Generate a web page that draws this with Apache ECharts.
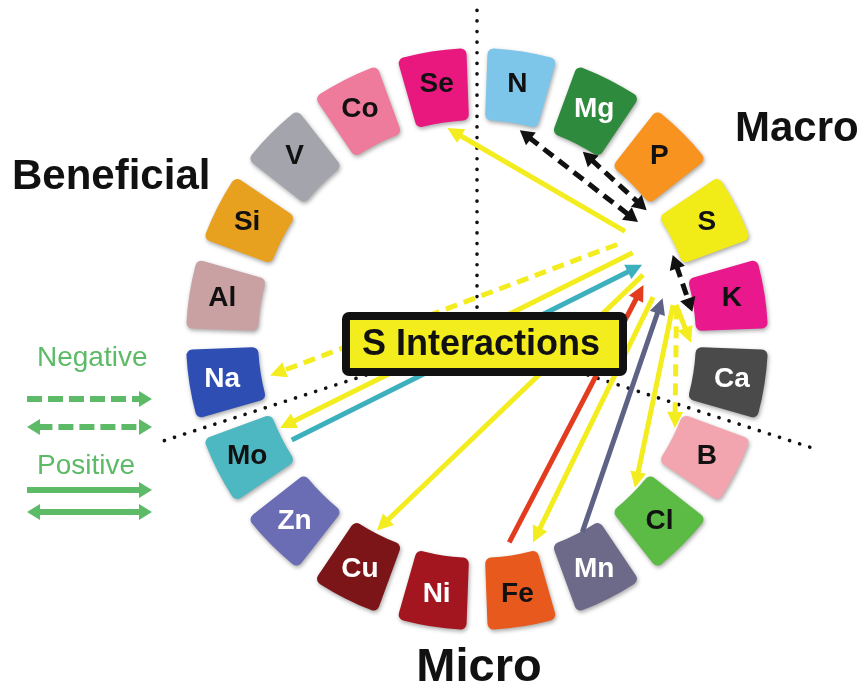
<!DOCTYPE html>
<html>
<head>
<meta charset="utf-8">
<script src="https://cdn.jsdelivr.net/npm/echarts@6/dist/echarts.min.js"></script>
<style>
html,body{margin:0;padding:0;background:#fff;}
#c{width:862px;height:691px;}
</style>
</head>
<body>
<div id="c"></div>
<script>
// ---------- data ----------
const elements = ['N','Mg','P','S','K','Ca','B','Cl','Mn','Fe','Ni','Cu','Zn','Mo','Na','Al','Si','V','Co','Se'];
const elementValues = [1,1,1,1,1,1,1,1,1,1,1,1,1,1,1,1,1,1,1,1];
const groupDividerAngles = [0, 108, 252];          // Macro | Micro | Beneficial boundaries (deg)
const groupDividerLengths = [330, 350, 332];
const groupNames = ['Macro', 'Micro', 'Beneficial'];

const arrowFrom   = ['S','N','Mg','S','S','S','Mo','S','Fe','S','Mn','S','S','S'];
const arrowTo     = ['Se','S','S','K','Na','Mo','S','Cu','S','Fe','S','Cl','B','Ca'];
const arrowEffect = ['pos','neg','neg','neg','neg','pos','pos','pos','pos','pos','pos','pos','neg','pos'];
const arrowHeads  = ['end','both','both','both','end','end','end','end','end','end','end','end','end','end'];
// polar [radius, angle] of the two ends
const arrowTail = [[183,54],[213,11.6],[215,29.5],[213,66.8],[169,56],[178,61],[211,241.4],[178,68.9],[206,171],[181,76.6],[220,151.4],[199,80.2],[202,81],[202,80.3]];
const arrowHead = [[213,352],[199,54],[213,52.8],[217,82.8],[210,260],[216,245.7],[181,65.8],[216,207.6],[175,72],[211,164.6],[190,77.6],[217,133.3],[217,114.2],[214,91]];

const legendLabels = ['Negative', 'Positive'];
const centerTitle = 'S Interactions';

// ---------- styles ----------
const elementColors = ['#7DC6EA','#2E8A3C','#F7931E','#F1EC17','#E9188C','#4A4A4A','#F3A5AF','#5CBB44','#6C6A88','#E8591E',
                       '#A3161F','#7C1518','#6A6CB4','#4DB8C2','#2F4EB4','#C9A1A3','#E8A11F','#A4A4AC','#EF7B9C','#E8187F'];
const whiteLabel = ['Mg','Ca','Mn','Ni','Cu','Zn','Na'];
const arrowColors = ['#F3EC1E','#111111','#111111','#111111','#F3EC1E','#F3EC1E','#3DB0BE','#F3EC1E','#E23B1E','#F3EC1E','#5E6385','#F3EC1E','#F3EC1E','#F3EC1E'];
const legendGreen = '#5DBA67';
const FONT = 'Liberation Sans, Arial, sans-serif';

const chart = echarts.init(document.getElementById('c'), null, {renderer:'canvas'});

function arrowShape(t, h, color, dashed, heads, lw, hl, hw, dash) {
  const dx = h[0]-t[0], dy = h[1]-t[1];
  const len = Math.sqrt(dx*dx+dy*dy);
  const ux = dx/len, uy = dy/len;
  const children = [];
  const s = (heads === 'both') ? [t[0]+ux*hl*0.8, t[1]+uy*hl*0.8] : t;
  const e = [h[0]-ux*hl*0.8, h[1]-uy*hl*0.8];
  children.push({type:'line', shape:{x1:s[0],y1:s[1],x2:e[0],y2:e[1]},
    style:{stroke:color, lineWidth:lw, lineDash: dashed ? (dash || [lw*2.4, lw*1.4]) : null, lineCap:'butt'}});
  const head = (tip, dirx, diry) => ({type:'polygon', shape:{points:[
      [tip[0], tip[1]],
      [tip[0]-dirx*hl+(-diry)*hw, tip[1]-diry*hl+dirx*hw],
      [tip[0]-dirx*hl-(-diry)*hw, tip[1]-diry*hl-dirx*hw]]},
      style:{fill:color}});
  children.push(head(h, ux, uy));
  if (heads === 'both') children.push(head(t, -ux, -uy));
  return children;
}

function legendArrow(x1, x2, y, dashed, both) {
  return arrowShape([x1,y],[x2,y], legendGreen, dashed, both ? 'both':'end', 6, 13, 8, [15, 6])
    .map(c => Object.assign(c, {z:50}));
}

const option = {
  animation: false,
  polar: {center:[477,339], radius:300},
  angleAxis: {type:'value', min:0, max:360, startAngle:90, clockwise:true, show:false},
  radiusAxis: {type:'value', min:0, max:300, show:false},
  series: [
    {
      type:'custom', coordinateSystem:'polar', z:1, silent:true,
      data: groupDividerAngles.map((a,i)=>[groupDividerLengths[i], a]),
      renderItem: (params, api) => {
        const p0 = api.coord([0, api.value(1)]);
        const p1 = api.coord([api.value(0), api.value(1)]);
        return {type:'line', shape:{x1:p0[0],y1:p0[1],x2:p1[0],y2:p1[1]},
          style:{stroke:'#111', lineWidth:3.6, lineDash:[0.1, 10.5], lineCap:'round'}};
      }
    },
    {
      type:'pie', z:2, silent:true,
      center:[477,339], radius:[219,291],
      startAngle:90, clockwise:true, padAngle:4.2,
      itemStyle:{borderRadius:6, shadowBlur:4, shadowColor:'rgba(0,0,0,0.35)', shadowOffsetY:2, shadowOffsetX:1},
      label:{show:true, position:'inside', formatter:'{b}', fontSize:28, fontWeight:'bold', fontFamily:FONT},
      labelLine:{show:false},
      emphasis:{disabled:true},
      data: elements.map((n,i)=>({name:n, value:elementValues[i],
        itemStyle:{color:elementColors[i]},
        label:{color: whiteLabel.includes(n) ? '#ffffff' : '#111111'}}))
    },
    {
      type:'custom', coordinateSystem:'polar', z:3, silent:true,
      data: arrowTail.map((t,i)=>[t[0], t[1], arrowHead[i][0], arrowHead[i][1]]),
      renderItem: (params, api) => {
        const i = params.dataIndex;
        const t = api.coord([api.value(0), api.value(1)]);
        const h = api.coord([api.value(2), api.value(3)]);
        const black = arrowColors[i] === '#111111';
        return {type:'group', children: arrowShape(t, h, arrowColors[i], arrowEffect[i]==='neg', arrowHeads[i],
          5, black ? 14 : 16, 8)};
      }
    }
  ],
  graphic: [
    // group titles
    {type:'text', left:735, top:108, z:50, style:{text:groupNames[0], font:'bold 42px '+FONT, fill:'#111'}},
    {type:'text', x:479, y:692, z:50, style:{text:groupNames[1], font:'bold 47px '+FONT, fill:'#111', textAlign:'center', textVerticalAlign:'bottom'}},
    {type:'text', left:12, top:156, z:50, style:{text:groupNames[2], font:'bold 42px '+FONT, fill:'#111'}},
    // legend
    {type:'text', left:37, top:344, z:50, style:{text:legendLabels[0], font:'28px '+FONT, fill:legendGreen}},
    {type:'text', left:37, top:452, z:50, style:{text:legendLabels[1], font:'28px '+FONT, fill:legendGreen}},
    ...legendArrow(27, 152, 399, true, false),
    ...legendArrow(27, 152, 427, true, true),
    ...legendArrow(27, 152, 490, false, false),
    ...legendArrow(27, 152, 512, false, true),
    // centre box
    {type:'rect', z:100, shape:{x:346, y:316, width:277, height:56, r:3},
      style:{fill:'#F3ED1E', stroke:'#111', lineWidth:8}},
    {type:'text', z:101, x:481, y:345, style:{text:centerTitle, font:'bold 36px '+FONT, fill:'#111', textAlign:'center', textVerticalAlign:'middle'}}
  ]
};
chart.setOption(option);
</script>
</body>
</html>
